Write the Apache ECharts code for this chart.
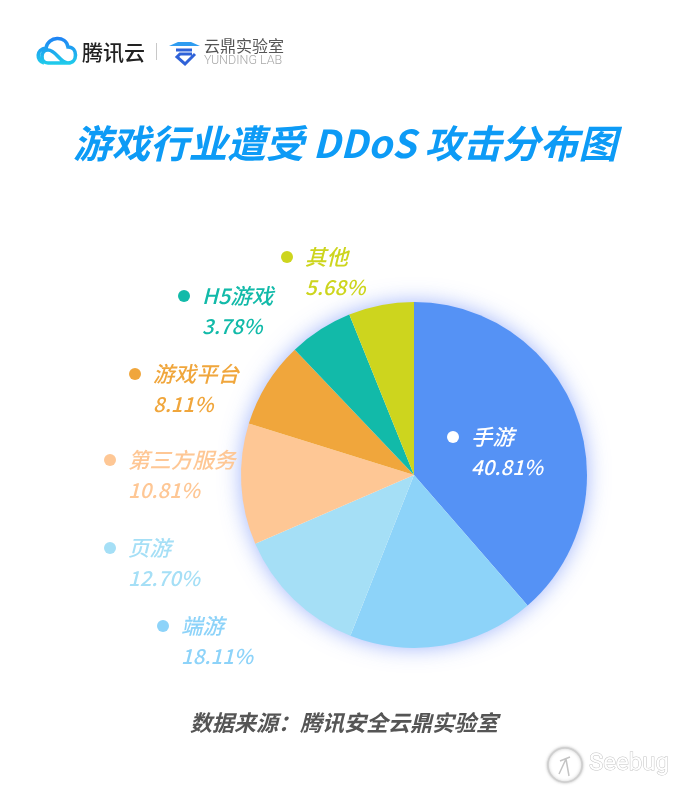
<!DOCTYPE html>
<html>
<head>
<meta charset="utf-8">
<style>
  html, body { margin: 0; padding: 0; background: #fff; }
  #chart { width: 693px; height: 792px; }
</style>
</head>
<body>
<div id="chart"></div>
<script src="https://cdn.jsdelivr.net/npm/echarts@6/dist/echarts.min.js"></script>
<script>
  const categories = ["手游", "端游", "页游", "第三方服务", "游戏平台", "H5游戏", "其他"];
  // 图上印的百分比
  const printedPercents = ["40.81%", "18.11%", "12.70%", "10.81%", "8.11%", "3.78%", "5.68%"];
  // 扇区实际画出来的大小（按图上角度估读，和印的数字不完全一致）
  const sliceValues = [38.6, 17.4, 12.5, 11.3, 8.1, 6.0, 6.1];
  const sliceColors = ["#5592f5", "#8dd3f9", "#a5dff6", "#fec795", "#f0a63c", "#12baa9", "#cdd51e"];
  const labelColors = ["#ffffff", "#8dd3f9", "#a5dff6", "#fec795", "#f0a63c", "#12baa9", "#cdd51e"];

  const FONT = '"Noto Sans CJK SC", "Noto Sans", sans-serif';
  // 标签左上角
  const labelPos = [[447, 422], [157, 611], [104, 533], [104, 445], [129, 359], [178, 281], [281, 242]];

  // logo 用到的路径
  function regPath(name, d) {
    echarts.graphic.registerShape(name, echarts.graphic.extendPath(d, {}));
  }
  regPath("tcCloud", "M44 63 C36 61 36 49 46 48 C48 36 66 35 68 47 C78 47 78 63 68 63 C60 63 56 50 48 50 C40 50 40 63 48 63 L66 63");
  regPath("ydTop", "M169 46 L200 46 L191 42 L178 42 Z");
  regPath("ydMark", "M176 50 L192 50 M192 54 L180 54 L177 57 L185 64 L195 54");
  regPath("sbMark", "M560 761 L570 757 M566 759 L569 776 M566 759 L559 774");

  var myChart = echarts.init(document.getElementById("chart"));

  let pieData = categories.map(function(name, i) {
    return {
      name: name,
      value: sliceValues[i],
      itemStyle: { color: sliceColors[i] },
      label: {
        overflow: "none",
        formatter: "{dot|}{gap|}{name|" + name + "}\n{indent|}{pct|" + printedPercents[i] + "}",
        rich: {
          dot: { width: 12, height: 12, borderRadius: 6, backgroundColor: labelColors[i] },
          gap: { width: 12 },
          indent: { width: 24 },
          name: { color: labelColors[i], fontSize: 21.5, fontStyle: "italic", fontWeight: 500, fontFamily: FONT, lineHeight: 30 },
          pct: { color: labelColors[i], fontSize: 20.5, fontStyle: "italic", fontWeight: 500, fontFamily: FONT, lineHeight: 30 },
        },
      },
    };
  });

  let options = {
    backgroundColor: "#ffffff",
    animation: false,
    title: {
      text: "游戏行业遭受 DDoS 攻击分布图",
      left: 68,
      top: 119,
      textStyle: {
        color: "#0d9bf6",
        fontSize: 38.5,
        fontWeight: "bold",
        fontStyle: "italic",
        fontFamily: FONT,
      },
    },
    series: [
      {
        type: "pie",
        center: [414, 475],
        radius: [0, 173],
        startAngle: 90,
        clockwise: true,
        silent: true,
        data: pieData,
        label: { show: true, position: "outside" },
        labelLine: { show: false },
        labelLayout: function(params) {
          let p = labelPos[params.dataIndex];
          return { x: p[0], y: p[1], align: "left", verticalAlign: "top", hideOverlap: false };
        },
        z: 5,
      },
    ],
    graphic: [
      // 饼图外圈的蓝色光晕
      {
        type: "circle",
        z: 1,
        silent: true,
        shape: { cx: 414, cy: 475, r: 172 },
        style: { fill: "#ffffff", shadowBlur: 22, shadowColor: "rgba(70,110,245,0.55)" },
      },
      // 腾讯云 logo
      {
        type: "tcCloud",
        z: 6,
        style: {
          fill: "none",
          lineWidth: 3.6,
          stroke: new echarts.graphic.LinearGradient(0, 0, 0, 1, [
            { offset: 0, color: "#1f7ff5" },
            { offset: 1, color: "#1fd0ea" },
          ]),
        },
      },
      {
        type: "text", z: 6,
        style: { x: 82, y: 52, text: "腾讯云", fill: "#222222", font: "500 21px " + FONT, verticalAlign: "middle" },
      },
      {
        type: "rect", z: 6,
        shape: { x: 156, y: 43, width: 1, height: 17 },
        style: { fill: "#c8c8c8" },
      },
      // 云鼎实验室 logo
      {
        type: "ydTop", z: 6,
        style: { fill: "#2f9cf0" },
      },
      {
        type: "ydMark", z: 6,
        style: { fill: "none", stroke: "#2f62d8", lineWidth: 3 },
      },
      {
        type: "text", z: 6,
        style: { x: 204, y: 46, text: "云鼎实验室", fill: "#555555", font: "400 16px " + FONT, verticalAlign: "middle" },
      },
      {
        type: "text", z: 6,
        style: { x: 204, y: 61, text: "YUNDING LAB", fill: "#a8a8a8", font: "300 12.5px Roboto, sans-serif", verticalAlign: "middle" },
      },
      // 数据来源
      {
        type: "text", z: 6,
        style: { x: 190, y: 723, text: "数据来源：腾讯安全云鼎实验室", fill: "#555555", font: "italic bold 22px " + FONT, verticalAlign: "middle" },
      },
      // Seebug 水印
      {
        type: "circle", z: 6,
        shape: { cx: 565, cy: 765, r: 17 },
        style: { fill: "#ffffff", stroke: "#cfcfcf", lineWidth: 1.5, shadowBlur: 3, shadowColor: "rgba(0,0,0,0.25)" },
      },
      {
        type: "sbMark", z: 6,
        style: { fill: "none", stroke: "#c4c4c4", lineWidth: 1.5 },
      },
      {
        type: "text", z: 6,
        style: { x: 589, y: 764, text: "Seebug", fill: "#ffffff", stroke: "#c4c4c4", lineWidth: 1, font: "400 24px Roboto, sans-serif", verticalAlign: "middle" },
      },
    ],
  };
  myChart.setOption(options);
</script>
</body>
</html>
